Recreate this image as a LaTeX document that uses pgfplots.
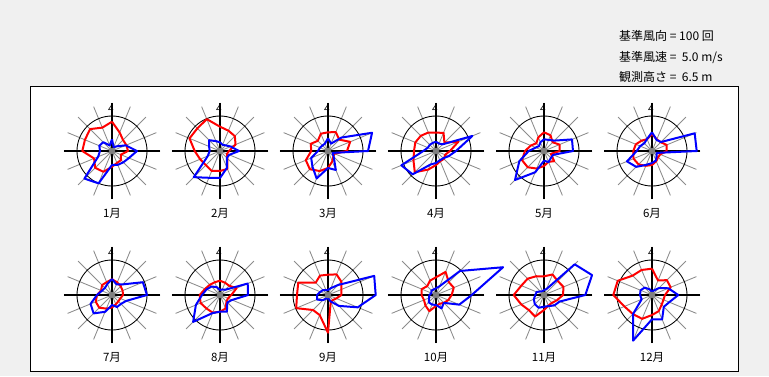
\documentclass[border=0pt]{standalone}
\usepackage{fontspec}
\setmainfont{Noto Sans CJK JP}
\usepackage{pgfplots}
\pgfplotsset{compat=1.18}
\usepackage{pgfplotstable}
\usepgfplotslibrary{polar}
\definecolor{bg}{RGB}{240,240,240}
\definecolor{spoke}{RGB}{140,140,140}
\definecolor{dot}{RGB}{128,128,128}

% columns: a = direction angle (N=90, clockwise), r = red series, b = blue series (radius in px)
\pgfplotstableread{
a r b
90 29.3 11.7
67.5 20 4.2
45 15.6 6.6
22.5 15.5 14.8
0 16 25
337.5 9.5 18.3
315 12.8 16
292.5 13 15
270 15.8 14
247.5 22.5 35
225 23.8 39
202.5 19.4 15
180 29.7 12
157.5 29.3 13.7
135 31 12.4
112.5 25.3 6
90 29.3 11.7
}\mI
\pgfplotstableread{
a r b
90 24.3 8.7
67.5 22 6.7
45 21 8
22.5 16.8 11.6
0 9 19
337.5 7.5 10
315 10.6 9.7
292.5 19.4 18.2
270 20 27
247.5 21.6 29
225 20 37
202.5 21.5 13.3
180 25.3 10.3
157.5 33 11.8
135 32 15.3
112.5 34.5 10.7
90 24.3 8.7
}\mII
\pgfplotstableread{
a r b
90 18.7 12.7
67.5 20.4 8
45 16 19
22.5 24 47.7
0 19 40
337.5 7 5
315 7.6 8
292.5 11.2 20.5
270 17 17
247.5 21.7 29.7
225 25.7 22
202.5 24 18.2
180 16.7 10
157.5 18.7 8.7
135 14.4 7.8
112.5 18.7 8
90 18.7 12.7
}\mIII
\pgfplotstableread{
a r b
90 18.3 9.3
67.5 19.7 8
45 11.9 9.5
22.5 24.2 39.4
0 14 20
337.5 9.9 13.6
315 11.2 10.3
292.5 11 10
270 14 12
247.5 20.1 14.7
225 30 33
202.5 24.4 37.5
180 22 12.7
157.5 22.4 8.8
135 21.5 8.8
112.5 20 8.7
90 18.3 9.3
}\mIV
\pgfplotstableread{
a r b
90 18.7 11.7
67.5 17 12
45 12.3 14.7
22.5 16.8 30.3
0 15.7 29
337.5 7.5 10
315 14.4 9.7
292.5 11.7 12
270 15 9.7
247.5 19 23
225 23 41
202.5 23.8 26.7
180 19 15.3
157.5 14.3 9
135 10.9 7
112.5 14.8 9.4
90 18.7 11.7
}\mV
\pgfplotstableread{
a r b
90 17 18.7
67.5 12.6 12
45 12.4 12.7
22.5 15.9 46.2
0 14.7 44.7
337.5 8.9 5
315 8.7 6.6
292.5 11 10.3
270 14 12
247.5 16 15
225 19 22.4
202.5 20 27.1
180 18.7 15.3
157.5 17.5 12.8
135 14.7 10.9
112.5 12.8 13
90 17 18.7
}\mVI
\pgfplotstableread{
a r b
90 15.7 16
67.5 13.7 11.6
45 12.3 15
22.5 11.5 33.4
0 11 35
337.5 9 15.4
315 9 12.6
292.5 10 13
270 12.5 10
247.5 14.7 18.2
225 18 26
202.5 17.6 23.2
180 15 15
157.5 11.8 11
135 14 10
112.5 13.9 12
90 15.7 16
}\mVII
\pgfplotstableread{
a r b
90 14.3 5
67.5 13.3 6
45 13 7.4
22.5 18 30
0 11.3 28
337.5 8.7 13
315 9.2 10.4
292.5 14.6 18
270 16.7 16.7
247.5 19.1 19.6
225 19.1 38
202.5 21 26.1
180 20.3 18
157.5 16.1 14.6
135 14.4 12
112.5 13.8 8.5
90 14.3 5
}\mVIII
\pgfplotstableread{
a r b
90 20.3 5
67.5 22.3 7.4
45 18.9 14.1
22.5 14.5 50
0 13.3 47.7
337.5 9 32.2
315 7 15.4
292.5 7.2 7
270 37.7 3.3
247.5 21.7 3.7
225 21.2 7.4
202.5 34.4 11.9
180 31 11
157.5 32.2 8.3
135 17.4 7
112.5 21 5.3
90 20.3 5
}\mIX
\pgfplotstableread{
a r b
90 17.7 6.7
67.5 25 9.6
45 18.1 34
22.5 19.2 72.6
0 15.7 35.7
337.5 13.3 25.2
315 11.1 11.1
292.5 9.5 14.5
270 11 10
247.5 17.5 10.3
225 14.9 10.3
202.5 13 7.4
180 14.5 6.7
157.5 15.4 4.9
135 12.5 6.4
112.5 15.6 6
90 17.7 6.7
}\mX
\pgfplotstableread{
a r b
90 18.7 5
67.5 22.2 6.4
45 19.6 43.4
22.5 21.1 52
0 19 41.3
337.5 13.9 17
315 11.1 14.7
292.5 11.5 12
270 15 11.7
247.5 23.3 13.8
225 21.4 13
202.5 24.6 11
180 30.3 8.7
157.5 24.5 8
135 23.1 5
112.5 20.3 4
90 18.7 5
}\mXI
\pgfplotstableread{
a r b
90 26.3 3.3
67.5 15.7 5
45 21 9.8
22.5 20.2 17.6
0 13 26.3
337.5 12.4 18.7
315 13.7 16.7
292.5 17.5 26.4
270 20 24.3
247.5 25.8 49.4
225 27 26.7
202.5 29.9 11.2
180 38.7 12
157.5 37.1 12.4
135 27.4 10.4
112.5 27.1 6.2
90 26.3 3.3
}\mXII

\pgfplotsset{rose/.style={
  scale only axis, width=96pt, height=96pt,
  anchor=center,
  xmin=0, xmax=360, ymin=0, ymax=48,
  xtick={0,22.5,...,337.5}, ytick={35},
  xticklabels={}, yticklabels={},
  xmajorgrids, ymajorgrids,
  x grid style={draw=spoke, line width=0.85pt},
  y grid style={draw=black, line width=0.85pt},
  axis line style={draw=none},
  major tick length=0pt,
  clip=false,
}}
\newcommand{\rose}[4]{%
  \begin{polaraxis}[rose, at={(#1pt,#2pt)}]
    \addplot[black, line width=1.1pt] coordinates {(0,48) (180,48)};
    \addplot[black, line width=1.1pt] coordinates {(90,48) (270,48)};
    \addplot[red, line width=2pt, line join=round] table[x=a,y=r] {#3};
    \addplot[blue, line width=2pt, line join=round] table[x=a,y=b] {#3};
    \addplot[only marks, mark=*, mark size=3pt, mark options={draw=dot, fill=dot}] coordinates {(0,0)};
  \end{polaraxis}
  \node[font=\fontsize{10}{10}\selectfont, inner sep=0pt] at (#1pt-1pt,#2pt+42pt) {4};
  \node[font=\fontsize{11.5}{12}\selectfont, inner sep=0pt] at (#1pt,#2pt-62pt) {#4};
}

\begin{document}
\begin{tikzpicture}
  \fill[bg] (0,0) rectangle (769pt,376pt);
  \draw[black, line width=0.8pt, fill=white] (30pt,5pt) rectangle (738pt,290pt);
  \node[anchor=west, inner sep=0pt, font=\fontsize{12}{12}\selectfont] at (619pt,340.3pt) {基準風向 = 100 回};
  \node[anchor=west, inner sep=0pt, font=\fontsize{12}{12}\selectfont] at (619pt,318.3pt) {基準風速 =\ \ 5.0 m/s};
  \node[anchor=west, inner sep=0pt, font=\fontsize{12}{12}\selectfont] at (619pt,298.7pt) {観測高さ =\ \ 6.5 m};
  \rose{112}{225}{\mI}{1月}
  \rose{220}{225}{\mII}{2月}
  \rose{328}{225}{\mIII}{3月}
  \rose{436}{225}{\mIV}{4月}
  \rose{544}{225}{\mV}{5月}
  \rose{652}{225}{\mVI}{6月}
  \rose{112}{81}{\mVII}{7月}
  \rose{220}{81}{\mVIII}{8月}
  \rose{328}{81}{\mIX}{9月}
  \rose{436}{81}{\mX}{10月}
  \rose{544}{81}{\mXI}{11月}
  \rose{652}{81}{\mXII}{12月}
  \pgfresetboundingbox
  \useasboundingbox (0,0) rectangle (769pt,376pt);
\end{tikzpicture}
\end{document}
